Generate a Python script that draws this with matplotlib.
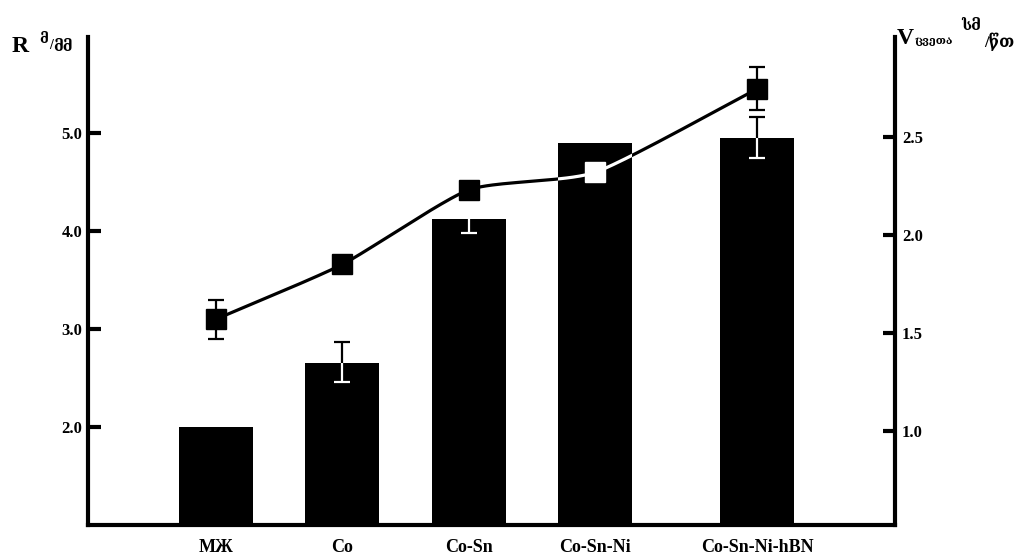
import numpy as np
import matplotlib
matplotlib.use('Agg')
import matplotlib.pyplot as plt

plt.rcParams['font.family'] = ['Liberation Serif', 'DejaVu Serif', 'DejaVu Sans']
plt.rcParams['font.weight'] = 'bold'

categories = ['МЖ', 'Co', 'Co-Sn', 'Co-Sn-Ni', 'Co-Sn-Ni-hBN']
x_pos = [0, 1, 2, 3, 4.28]

# left axis: bars
r_values = [2.0, 2.65, 4.12, 4.90, 4.95]
r_err_up = [0, 0.22, 0, 0, 0.21]
r_err_down = [0, 0.19, 0.14, 0, 0.2]

# right axis: line with squares
v_values = [1.57, 1.85, 2.23, 2.32, 2.745]
v_err = [0.1, 0, 0, 0, 0.11]


def smooth(xs, ys, n=40, k=0.6):
    # cardinal spline through the points, only for drawing
    xs = np.asarray(xs, float)
    ys = np.asarray(ys, float)
    px = np.r_[2 * xs[0] - xs[1], xs, 2 * xs[-1] - xs[-2]]
    py = np.r_[2 * ys[0] - ys[1], ys, 2 * ys[-1] - ys[-2]]
    t = np.linspace(0, 1, n)
    h00 = 2 * t ** 3 - 3 * t ** 2 + 1
    h10 = t ** 3 - 2 * t ** 2 + t
    h01 = -2 * t ** 3 + 3 * t ** 2
    h11 = t ** 3 - t ** 2
    out_x, out_y = [], []
    for i in range(1, len(px) - 2):
        for p, out in ((px, out_x), (py, out_y)):
            m1 = k * (p[i + 1] - p[i - 1]) / 2
            m2 = k * (p[i + 2] - p[i]) / 2
            out.extend(h00 * p[i] + h10 * m1 + h01 * p[i + 1] + h11 * m2)
    return np.array(out_x), np.array(out_y)


def err_marks(a, xs, ys, up, dn, color, z, clip=None):
    arts = []
    for x, y, u, d in zip(xs, ys, up, dn):
        if u > 0:
            arts.append(a.vlines(x, y, y + u, color=color, lw=1.6, zorder=z))
            arts += a.plot(x, y + u, '_', ms=12, mew=1.6, color=color, zorder=z)
        if d > 0:
            arts.append(a.vlines(x, y - d, y, color=color, lw=1.6, zorder=z))
            arts += a.plot(x, y - d, '_', ms=12, mew=1.6, color=color, zorder=z)
    if clip is not None:
        for art in arts:
            art.set_clip_path(clip)
    return arts


fig = plt.figure(figsize=(10.36, 5.54), dpi=100)
ax = fig.add_axes([88 / 1036, 1 - 525 / 554, (895 - 88) / 1036, 488 / 554])
ax2 = ax.twinx()

bars = ax.bar(x_pos, r_values, width=0.585, color='black', zorder=2)
ax.set_xlim(-1.012, 5.37)
ax.set_ylim(1.0, 5.98)
ax2.set_ylim(0.52, 3.01)

# bar error bars: black outside the bar, white inside it
err_marks(ax, x_pos, r_values, r_err_up, r_err_down, 'black', 3)
for b in bars:
    err_marks(ax, x_pos, r_values, r_err_up, r_err_down, 'white', 4, clip=b)

sx, sy = smooth(x_pos, v_values)
ax2.plot(sx, sy, color='black', lw=2.3, zorder=3)
err_marks(ax2, x_pos, v_values, v_err, v_err, 'black', 4)
ax2.plot(x_pos, v_values, 's', ms=15, color='black', zorder=4)
for b in bars:
    ln, = ax2.plot(sx, sy, color='white', lw=2.3, zorder=5)
    ln.set_clip_path(b)
    mk, = ax2.plot(x_pos, v_values, 's', ms=15, color='white', zorder=6)
    mk.set_clip_path(b)
    err_marks(ax2, x_pos, v_values, v_err, v_err, 'white', 6, clip=b)

ax.set_yticks([2, 3, 4, 5])
ax.set_yticklabels(['2.0', '3.0', '4.0', '5.0'])
ax2.set_yticks([1.0, 1.5, 2.0, 2.5])
ax2.set_yticklabels(['1.0', '1.5', '2.0', '2.5'])
ax.set_xticks(x_pos)
ax.set_xticklabels(categories)

ax.tick_params(axis='y', direction='in', length=9, width=3, labelsize=12, pad=4)
ax2.tick_params(axis='y', direction='in', length=9, width=3, labelsize=12, pad=5)
ax.tick_params(axis='x', length=0, labelsize=13, pad=10)

for s in ['top', 'right']:
    ax.spines[s].set_visible(False)
for s in ['top', 'left', 'bottom']:
    ax2.spines[s].set_visible(False)
ax.spines['left'].set_linewidth(3)
ax.spines['bottom'].set_linewidth(3)
ax2.spines['right'].set_linewidth(3)


# axis titles
def ftxt(x, y, s, size):
    fig.text(x / 1036, 1 - y / 554, s, fontsize=size, va='baseline', ha='left')


ftxt(12, 52, 'R', 17)
ftxt(39, 43, 'მ', 10)
ftxt(49, 49, '/', 10)
ftxt(53, 51, 'მმ', 11)

ftxt(897, 44, 'V', 17)
ftxt(914, 44, 'ცვეთა', 8)
ftxt(961, 30, 'სმ', 11)
ftxt(984, 47, '/წთ', 12)

fig.savefig('out.png', dpi=100)
